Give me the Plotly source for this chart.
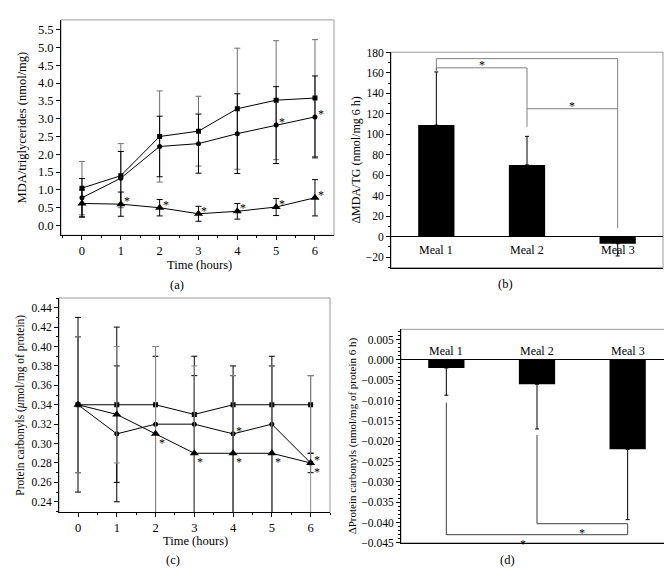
import plotly.graph_objects as go

# ---------------- data ----------------
hours = [0, 1, 2, 3, 4, 5, 6]

# (a) MDA / triglycerides (nmol/mg)
mda_sq = [1.05, 1.40, 2.50, 2.65, 3.28, 3.52, 3.58]
mda_sq_err = [0.75, 0.90, 1.28, 0.98, 1.70, 1.67, 1.64]
mda_ci = [0.78, 1.33, 2.22, 2.30, 2.58, 2.82, 3.05]
mda_ci_err = [0.54, 0.75, 0.85, 0.83, 1.12, 1.08, 1.15]
mda_tr = [0.62, 0.60, 0.50, 0.33, 0.40, 0.52, 0.78]
mda_tr_err = [0.38, 0.34, 0.23, 0.21, 0.22, 0.24, 0.51]
stars_a_ci = [5, 6]
stars_a_tr = [1, 2, 3, 4, 5, 6]

# (b) delta MDA/TG
meals = ["Meal 1", "Meal 2", "Meal 3"]
dmda = [109, 70, -7]
dmda_err_up = [52, 28, 0]
dmda_err_dn = [0, 0, 12]
# brackets: (x_left, y_left_end, x_right, y_right_end, height)
brackets_b = [(0, 161, 2, 8, 174), (0, 161, 1, 107, 165), (1, 125, 2, 125, 125)]
stars_b = [(0.5, 165), (1.5, 125)]

# (c) protein carbonyls (umol/mg of protein)
pc_sq = [0.34, 0.34, 0.34, 0.33, 0.34, 0.34, 0.34]
pc_sq_up = [0.09, 0.08, 0.06, 0.06, 0.04, 0.05, 0.03]
pc_sq_dn = [0.09, 0.08, 0.14, 0.13, 0.14, 0.14, 0.05]
pc_ci = [0.34, 0.31, 0.32, 0.32, 0.31, 0.32, 0.28]
pc_ci_up = [0.07, 0.07, 0.07, 0.05, 0.06, 0.06, 0.01]
pc_ci_dn = [0.07, 0.07, 0.12, 0.12, 0.11, 0.12, 0.01]
pc_tr = [0.34, 0.33, 0.31, 0.29, 0.29, 0.29, 0.28]
pc_tr_up = [0.07, 0.07, 0.09, 0.09, 0.08, 0.09, 0.09]
pc_tr_dn = [0.07, 0.05, 0.11, 0.09, 0.09, 0.09, 0.09]
stars_c_up = [("ci", 4), ("tr", 6)]
stars_c_dn = [("ci", 6), ("tr", 2), ("tr", 3), ("tr", 4), ("tr", 5)]

# (d) delta protein carbonyls
dpc = [-0.002, -0.006, -0.022]
dpc_err_dn = [0.0067, 0.011, 0.0173]
brackets_d = [(0, -0.0105, 2, -0.0403, -0.043), (1, -0.0185, 2, -0.0403, -0.0403)]
stars_d = [(0.85, -0.043), (1.5, -0.0403)]

# ---------------- figure ----------------
FONT = "Liberation Serif"
BLACK = "#000000"
GRAY = "#8a8a8a"
W, H = 672, 580


def px_x(p):
    return p / W


def px_y(p):
    return 1 - p / H


fig = go.Figure()


def line_trace(x, y, up, dn, symbol, size, ecolor, xa, ya):
    err = dict(type="data", array=up, color=ecolor, thickness=1, width=3, visible=True)
    if dn is not None:
        err["symmetric"] = False
        err["arrayminus"] = dn
    fig.add_trace(go.Scatter(
        x=x, y=y, mode="lines+markers", xaxis=xa, yaxis=ya,
        line=dict(color=BLACK, width=1),
        marker=dict(symbol=symbol, size=size, color=BLACK),
        error_y=err, showlegend=False, hoverinfo="x+y"))


# (a)
line_trace(hours, mda_sq, mda_sq_err, None, "square", 5, "#6e6e6e", "x", "y")
line_trace(hours, mda_ci, mda_ci_err, None, "circle", 5, BLACK, "x", "y")
line_trace(hours, mda_tr, mda_tr_err, None, "triangle-up", 8, BLACK, "x", "y")

# (b)
fig.add_trace(go.Bar(
    x=[0, 1, 2], y=dmda, width=0.4, marker=dict(color=BLACK, line=dict(width=0)),
    error_y=dict(type="data", symmetric=False, array=dmda_err_up, arrayminus=dmda_err_dn,
                 color=BLACK, thickness=1, width=2),
    xaxis="x2", yaxis="y2", showlegend=False))

# (c)
line_trace(hours, pc_sq, pc_sq_up, pc_sq_dn, "square", 5, BLACK, "x3", "y3")
line_trace(hours, pc_ci, pc_ci_up, pc_ci_dn, "circle", 5, BLACK, "x3", "y3")
line_trace(hours, pc_tr, pc_tr_up, pc_tr_dn, "triangle-up", 8, GRAY, "x3", "y3")

# (d)
fig.add_trace(go.Bar(
    x=[0, 1, 2], y=dpc, width=0.4, marker=dict(color=BLACK, line=dict(width=0)),
    error_y=dict(type="data", symmetric=False, array=[0, 0, 0], arrayminus=dpc_err_dn,
                 color=BLACK, thickness=1, width=2),
    xaxis="x4", yaxis="y4", showlegend=False))

shapes = []
annotations = []

# frames (gray box) for each subplot
for xa, ya in [("x", "y"), ("x2", "y2"), ("x3", "y3"), ("x4", "y4")]:
    shapes.append(dict(type="rect", xref=f"{xa} domain", yref=f"{ya} domain",
                       x0=0, x1=1, y0=0, y1=1, line=dict(color="#9a9a9a", width=1),
                       layer="below"))

# brackets
for (x0, y0, x1, y1, h) in brackets_b:
    shapes.append(dict(type="path", xref="x2", yref="y2",
                       path=f"M {x0},{y0} L {x0},{h} L {x1},{h} L {x1},{y1}",
                       line=dict(color="#808080", width=1)))
for (x0, y0, x1, y1, h) in brackets_d:
    shapes.append(dict(type="path", xref="x4", yref="y4",
                       path=f"M {x0},{y0} L {x0},{h} L {x1},{h} L {x1},{y1}",
                       line=dict(color="#404040", width=1)))

star_font = dict(family=FONT, size=12, color=BLACK)


def star(x, y, xa, ya, up=True, xanchor="left", xshift=1):
    annotations.append(dict(x=x, y=y, xref=xa, yref=ya, text="*", showarrow=False,
                            xanchor=xanchor, yanchor="middle", xshift=xshift,
                            yshift=3 if up else -9, font=star_font))


for i in stars_a_ci:
    star(hours[i], mda_ci[i], "x", "y")
for i in stars_a_tr:
    star(hours[i], mda_tr[i], "x", "y")
series_c = {"ci": pc_ci, "tr": pc_tr}
for s, i in stars_c_up:
    star(hours[i], series_c[s][i], "x3", "y3", up=True)
for s, i in stars_c_dn:
    star(hours[i], series_c[s][i], "x3", "y3", up=False)
for (x, y) in stars_b:
    star(x, y, "x2", "y2", up=True, xanchor="center", xshift=0)
for (x, y) in stars_d:
    star(x, y, "x4", "y4", up=False, xanchor="center", xshift=0)

# category labels
lab_font = dict(family=FONT, size=12, color=BLACK)
for i, m in enumerate(meals):
    annotations.append(dict(x=i, y=0, xref="x2", yref="y2", text=m, showarrow=False,
                            yanchor="middle", yshift=-13, font=lab_font))
    annotations.append(dict(x=i, y=0, xref="x4", yref="y4", text=m, showarrow=False,
                            yanchor="middle", yshift=9, font=lab_font))

# x titles and panel labels
title_font = dict(family=FONT, size=12.5, color=BLACK)
for text, x, y in [("Time (hours)", 191, 256), ("Time (hours)", 187, 538),
                   ("(a)", 169, 277), ("(b)", 497, 276), ("(c)", 165, 558), ("(d)", 499, 558)]:
    annotations.append(dict(x=px_x(x), y=px_y(y), xref="paper", yref="paper", text=text,
                            showarrow=False, xanchor="center", yanchor="middle", font=title_font))

tickfont = dict(family=FONT, size=12.5, color=BLACK)
tickfont_s = dict(family=FONT, size=11.5, color=BLACK)
axis_common = dict(showline=True, linecolor=BLACK, linewidth=1, ticks="outside", ticklen=4,
                   tickcolor=BLACK, showgrid=False, zeroline=False, mirror=False)

fig.update_layout(
    width=W, height=H, margin=dict(l=0, r=0, t=0, b=0),
    paper_bgcolor="white", plot_bgcolor="white",
    font=dict(family=FONT, color=BLACK),
    showlegend=False,
    # (a)
    xaxis=dict(**axis_common, domain=[px_x(53), px_x(326)], range=[-0.54, 6.49],
               anchor="y", tickvals=hours, tickfont=tickfont,
               minor=dict(ticks="outside", ticklen=2, dtick=0.5, tick0=0, tickcolor=BLACK)),
    yaxis=dict(**axis_common, domain=[px_y(226), px_y(6)], range=[-0.275, 5.775],
               anchor="x", dtick=0.5, tick0=0, tickformat=".1f", tickfont=tickfont,
               title=dict(text="MDA/triglycerides (nmol/mg)", font=dict(family=FONT, size=12.5),
                          standoff=8)),
    # (b)
    xaxis2=dict(**{**axis_common, "ticks": ""}, domain=[px_x(383), px_x(655)], range=[-0.5, 2.5],
                anchor="y2", showticklabels=False),
    yaxis2=dict(**{**axis_common, "zeroline": True}, zerolinecolor=BLACK, zerolinewidth=1,
                domain=[px_y(259), px_y(39)], range=[-30.4, 180.3],
                anchor="x2", dtick=20, tick0=0, tickfont=tickfont_s,
                minor=dict(ticks="outside", ticklen=2, dtick=10, tick0=0, tickcolor=BLACK),
                title=dict(text="ΔMDA/TG (nmol/mg 6 h)", font=dict(family=FONT, size=12),
                           standoff=2)),
    # (c)
    xaxis3=dict(**axis_common, domain=[px_x(51), px_x(322)], range=[-0.49, 6.5],
                anchor="y3", tickvals=hours, tickfont=tickfont,
                minor=dict(ticks="outside", ticklen=2, dtick=0.5, tick0=0, tickcolor=BLACK)),
    yaxis3=dict(**axis_common, domain=[px_y(509), px_y(290)], range=[0.229, 0.450],
                anchor="x3", dtick=0.02, tick0=0.24, tickformat=".2f", tickfont=tickfont_s,
                minor=dict(ticks="outside", ticklen=2, dtick=0.01, tick0=0.24, tickcolor=BLACK),
                title=dict(text="Protein carbonyls (<i>μ</i>mol/mg of protein)",
                           font=dict(family=FONT, size=11.5), standoff=4)),
    # (d)
    xaxis4=dict(**{**axis_common, "ticks": ""}, domain=[px_x(393), px_x(665)], range=[-0.5, 2.5],
                anchor="y4", showticklabels=False),
    yaxis4=dict(**{**axis_common, "zeroline": True}, zerolinecolor=BLACK, zerolinewidth=1,
                domain=[px_y(540), px_y(322)], range=[-0.045, 0.0075],
                anchor="x4", dtick=0.005, tick0=0, tickformat=".3f", tickfont=tickfont_s,
                minor=dict(ticks="outside", ticklen=2, dtick=0.001, tick0=0, tickcolor=BLACK),
                title=dict(text="ΔProtein carbonyls (nmol/mg of protein 6 h)",
                           font=dict(family=FONT, size=11), standoff=2)),
    shapes=shapes,
    annotations=annotations,
)

fig.write_html("out.html")
